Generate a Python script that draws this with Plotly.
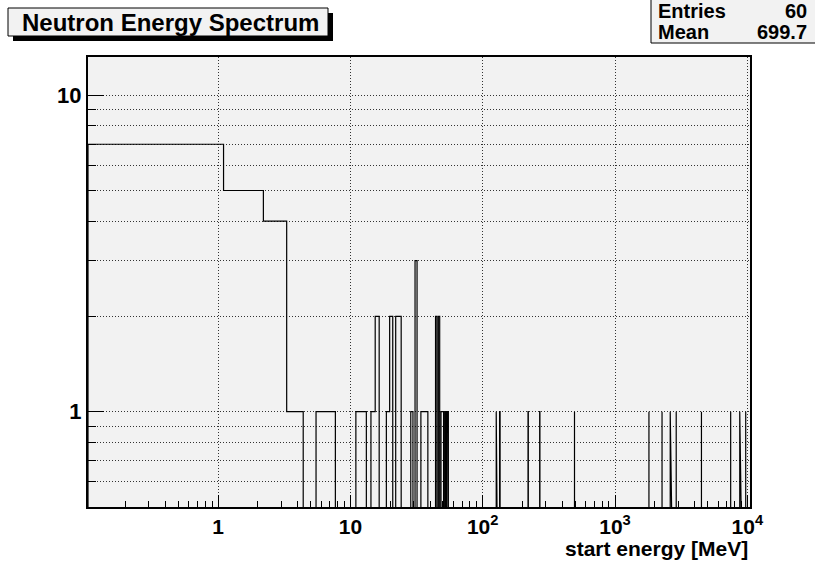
import math
import plotly.graph_objects as go

# Histogram contents: 1.1 MeV wide bins, only non-empty bins listed
BIN_WIDTH = 1.1
bin_low_edge = [
    0.0, 1.1, 2.2, 3.3, 5.5, 6.6, 11.0, 12.1, 14.3, 15.4,
    18.7, 19.8, 22.0, 23.1, 28.6, 30.8, 34.1, 35.2, 36.3, 37.4,
    44.0, 46.2, 48.4, 49.5, 51.7, 53.9,
    126.5, 134.2, 220.0, 269.5, 493.9,
    1804.0, 2266.0, 2612.5, 2899.6, 4499.0, 7480.0, 8760.4, 9719.6,
]
counts = [
    7, 5, 4, 1, 1, 1, 1, 1, 1, 2,
    1, 2, 2, 2, 1, 3, 1, 1, 1, 1,
    2, 2, 1, 1, 1, 1,
    1, 1, 1, 1, 1,
    1, 1, 1, 1, 1, 1, 1, 1,
]
STATS_MEAN = "699.7"

x_tick_vals = [1, 10, 100, 1000, 10000]
x_tick_text = ["1", "10", "10<sup>2</sup>", "10<sup>3</sup>", "10<sup>4</sup>"]
y_tick_vals = [1, 10]
y_tick_text = ["1", "10"]

X_RANGE = [-0.983, 4.02]          # log10 of axis limits
Y_RANGE = [math.log10(0.5), 1.1207]

# ---- build the histogram outline (ROOT-style step line) ----
x_min = 10 ** X_RANGE[0]
floor = 10 ** Y_RANGE[0] * 0.1    # below the visible range, clipped away
xs, ys = [], []
prev_idx, prev_hi = None, None
for lo, c in zip(bin_low_edge, counts):
    idx = round(lo / BIN_WIDTH)
    x0 = max(lo, x_min)
    x1 = lo + BIN_WIDTH
    if prev_idx is not None and idx == prev_idx + 1:
        xs += [x0, x1]
        ys += [c, c]
    else:
        if prev_hi is not None:
            xs.append(prev_hi)
            ys.append(floor)
        xs += [x0, x0, x1]
        ys += [floor, c, c]
    prev_idx, prev_hi = idx, x1
xs.append(prev_hi)
ys.append(floor)

FONT = "Liberation Sans, Arial, sans-serif"

fig = go.Figure()
fig.add_trace(go.Scatter(
    x=xs, y=ys, mode="lines",
    line=dict(color="black", width=1.2),
    hoverinfo="skip", showlegend=False,
))

# minor tick positions 2..9 per decade
x_minor = [m * 10 ** d for d in range(-1, 4) for m in range(2, 10)]
y_minor = [m * 10 ** d for d in range(-1, 2) for m in range(2, 10)]

DOTS = "1px,2px"
fig.update_xaxes(
    type="log", range=X_RANGE,
    tickvals=x_tick_vals, ticktext=x_tick_text,
    ticks="inside", ticklen=12, tickwidth=1, tickcolor="black",
    showgrid=True, gridcolor="#333333", gridwidth=1, griddash=DOTS,
    minor=dict(tickvals=x_minor, ticks="inside", ticklen=6,
               tickcolor="black", tickwidth=1, showgrid=False),
    showline=True, linecolor="black", linewidth=2, mirror=True,
    zeroline=False,
    tickfont=dict(family=FONT, size=21, color="black", weight="bold"),
)
fig.update_yaxes(
    type="log", range=Y_RANGE,
    tickvals=y_tick_vals, ticktext=y_tick_text,
    ticks="inside", ticklen=16, tickwidth=1, tickcolor="black",
    showgrid=True, gridcolor="#333333", gridwidth=1, griddash=DOTS,
    minor=dict(tickvals=y_minor, ticks="inside", ticklen=8,
               tickcolor="black", tickwidth=1, showgrid=True,
               gridcolor="#333333", gridwidth=1, griddash=DOTS),
    showline=True, linecolor="black", linewidth=2, mirror=True,
    zeroline=False,
    tickfont=dict(family=FONT, size=22, color="black", weight="bold"),
)

# pixel -> paper helpers for the boxes around the frame
L, R, T, B, W, H = 88, 65, 57, 55, 815, 562
PW, PH = W - L - R, H - T - B


def px(x):
    return (x - L) / PW


def py(y):
    return (H - B - y) / PH


shapes = [
    # title box with drop shadow
    dict(type="rect", xref="paper", yref="paper",
         x0=px(13), x1=px(333), y0=py(13), y1=py(41),
         fillcolor="black", line=dict(width=0), layer="above"),
    dict(type="rect", xref="paper", yref="paper",
         x0=px(8), x1=px(328), y0=py(8), y1=py(36),
         fillcolor="#f2f2f2", line=dict(color="black", width=1), layer="above"),
    # statistics box
    dict(type="rect", xref="paper", yref="paper",
         x0=px(651), x1=px(820), y0=py(-5), y1=py(43),
         fillcolor="#f2f2f2", line=dict(color="black", width=1), layer="above"),
]

bold = dict(family=FONT, color="black", weight="bold")
annotations = [
    dict(text="Neutron Energy Spectrum", xref="paper", yref="paper",
         x=px(170), y=py(22), xanchor="center", yanchor="middle",
         showarrow=False, font=dict(size=24, **bold)),
    dict(text="Entries", xref="paper", yref="paper",
         x=px(656), y=py(11), xanchor="left", yanchor="middle",
         showarrow=False, font=dict(size=20, **bold)),
    dict(text=str(sum(counts)), xref="paper", yref="paper",
         x=px(809), y=py(11), xanchor="right", yanchor="middle",
         showarrow=False, font=dict(size=20, **bold)),
    dict(text="Mean", xref="paper", yref="paper",
         x=px(656), y=py(32), xanchor="left", yanchor="middle",
         showarrow=False, font=dict(size=20, **bold)),
    dict(text=STATS_MEAN, xref="paper", yref="paper",
         x=px(809), y=py(32), xanchor="right", yanchor="middle",
         showarrow=False, font=dict(size=20, **bold)),
    dict(text="start energy [MeV]", xref="paper", yref="paper",
         x=px(750), y=py(548), xanchor="right", yanchor="middle",
         showarrow=False, font=dict(size=21, **bold)),
]

fig.update_layout(
    width=W, height=H,
    margin=dict(l=L, r=R, t=T, b=B, pad=0),
    paper_bgcolor="white", plot_bgcolor="#f2f2f2",
    shapes=shapes, annotations=annotations,
    showlegend=False,
)

fig.write_html("out.html")
